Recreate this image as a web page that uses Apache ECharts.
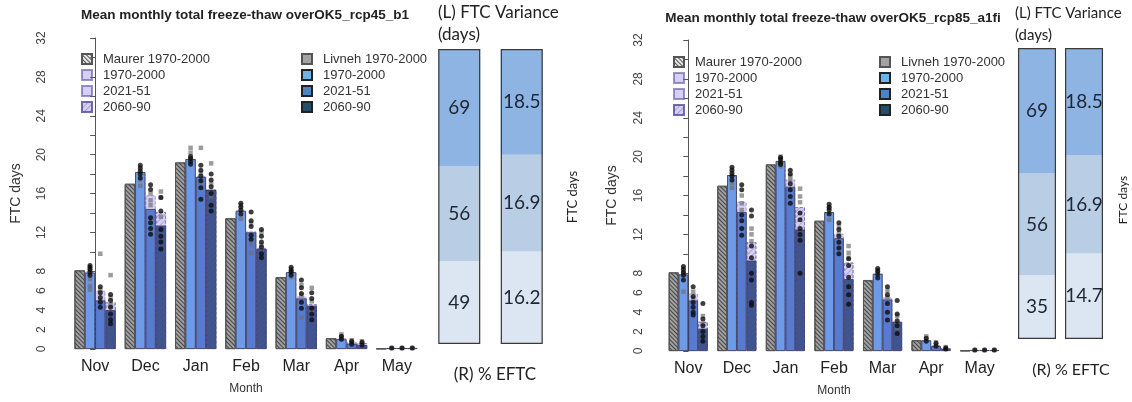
<!DOCTYPE html>
<html>
<head>
<meta charset="utf-8">
<script src="https://cdn.jsdelivr.net/npm/echarts@6/dist/echarts.min.js"></script>
<style>
  html, body { margin: 0; padding: 0; background: #fff; }
  #main { width: 1132px; height: 402px; }
</style>
</head>
<body>
<div id="main"></div>
<script>
const months = ['Nov', 'Dec', 'Jan', 'Feb', 'Mar', 'Apr', 'May'];
const yTicks = [0, 2, 4, 6, 8, 12, 16, 20, 24, 28, 32];

// left panel: rcp45_b1 (bar heights, FTC days)
const b1Maurer = [8.1, 17.0, 19.2, 13.45, 7.4, 1.1, 0.05];
const b1Livneh = [8.0, 16.9, 19.1, 13.4, 7.3, 1.1, 0.05];
const b1Blue1970 = [7.85, 18.2, 19.55, 14.2, 7.9, 1.0, 0.1];
const b1Blue2021 = [5.0, 14.4, 17.7, 12.0, 5.2, 0.55, 0.1];
const b1Blue2060 = [4.0, 12.7, 16.4, 10.3, 4.45, 0.4, 0.1];
const b1Lav1970 = [8.0, 18.0, 19.4, 14.3, 7.9, 1.1, 0.1];
const b1Lav2021 = [6.0, 15.8, 17.8, 12.1, 5.4, 0.7, 0.1];
const b1Lav2060 = [4.8, 14.1, 16.3, 10.4, 4.6, 0.6, 0.1];
// ensemble members (black dots / grey squares), per month
const b1Black1970 = [[8.6, 8.4, 8.2, 7.9, 7.6], [18.9, 18.6, 18.3, 18.0, 17.6], [19.8, 19.6, 19.3, 19.0], [15.0, 14.6, 14.3, 13.9], [8.4, 8.1, 7.9, 7.6], [1.3, 1.0], [0.1]];
const b1Grey1970 = [[8.0, 7.2, 6.5, 6.1], [17.4, 16.8], [20.7, 20.2], [14.8, 13.4], [8.2, 7.4], [1.5, 1.2], [0.1]];
const b1Black2021 = [[6.4, 5.8, 5.3, 4.8, 4.3], [16.9, 16.4, 13.5, 13.0, 12.4, 11.8], [18.9, 18.4, 17.8, 17.3, 16.6, 15.4], [14.1, 13.2, 12.6, 11.7, 11.3], [7.1, 6.3, 5.7, 4.8, 4.2], [0.8, 0.5], [0.1]];
const b1Grey2021 = [[9.8, 6.1, 5.0], [16.0, 15.3, 14.8], [20.7, 18.1, 17.0], [12.9, 10.8, 9.9], [6.6, 5.5, 3.2], [0.9, 0.6], [0.1]];
const b1Black2060 = [[5.6, 5.0, 4.3, 3.6, 3.0, 2.6], [15.6, 14.2, 12.3, 11.6, 11.0, 10.3], [18.0, 17.4, 16.7, 16.0, 14.8, 14.2], [12.3, 11.6, 11.0, 10.5, 9.8, 9.4], [5.8, 5.2, 4.2, 3.6, 3.0], [0.7, 0.4], [0.1]];
const b1Grey2060 = [[7.6, 5.3, 4.5], [16.2, 15.6, 13.6], [19.1, 17.0, 15.7], [12.0, 10.7], [6.3, 4.9, 3.9], [0.8], [0.1]];

// right panel: rcp85_a1fi
const a1Maurer = [8.1, 17.0, 19.2, 13.4, 7.3, 1.1, 0.05];
const a1Livneh = [8.0, 16.9, 19.1, 13.3, 7.2, 1.1, 0.05];
const a1Blue1970 = [7.87, 18.1, 19.55, 14.3, 7.95, 1.1, 0.1];
const a1Blue2021 = [5.2, 14.3, 16.9, 11.6, 5.3, 0.5, 0.1];
const a1Blue2060 = [2.3, 9.3, 12.5, 7.4, 3.0, 0.2, 0.1];
const a1Lav1970 = [7.9, 18.0, 19.4, 14.2, 7.9, 1.1, 0.1];
const a1Lav2021 = [5.9, 15.35, 17.65, 12.05, 5.5, 0.6, 0.1];
const a1Lav2060 = [3.0, 11.2, 14.8, 9.1, 3.0, 0.3, 0.1];
const a1Black1970 = [[8.7, 8.4, 8.1, 7.8, 7.3], [18.9, 18.6, 18.3, 18.0, 17.6], [19.9, 19.7, 19.4, 19.2], [15.1, 14.8, 14.5, 14.1], [8.5, 8.2, 7.9, 7.5], [1.3, 1.0], [0.1]];
const a1Grey1970 = [[8.0, 6.1], [17.3, 16.8], [20.0, 19.0], [14.7, 13.5], [8.3], [1.5], [0.1]];
const a1Black2021 = [[6.6, 5.6, 5.0, 4.5, 4.0, 3.7], [17.1, 16.6, 14.0, 13.4, 12.6, 11.9], [18.6, 18.2, 17.2, 16.6, 15.9, 15.2], [13.2, 12.5, 11.8, 11.2, 10.6, 10.0], [6.6, 5.8, 4.9, 4.0, 3.2], [0.8, 0.5], [0.1]];
const a1Grey2021 = [[6.1, 5.4], [16.0, 15.2, 14.5], [18.0, 17.6], [12.8, 12.1], [6.2, 5.5], [0.9], [0.1]];
const a1Black2060 = [[4.9, 3.3, 2.6, 2.0, 1.5, 1.0], [14.5, 13.9, 10.8, 9.6, 8.0, 7.3, 5.0, 4.7], [14.2, 13.5, 12.6, 12.0, 11.4, 8.0], [9.5, 8.8, 7.6, 6.6, 5.8, 4.8], [5.2, 3.8, 3.1, 2.6, 1.8], [0.3, 0.2], [0.1]];
const a1Grey2060 = [[3.6, 2.8], [12.6, 12.0, 11.3], [16.7, 15.9, 15.3], [10.8, 10.1, 9.6], [3.6, 2.4], [0.4], [0.1]];

// side boxes: (L) FTC variance and (R) % EFTC, bottom -> top
const b1Variance = [49, 56, 69];
const b1Eftc = [16.2, 16.9, 18.5];
const a1Variance = [35, 56, 69];
const a1Eftc = [14.7, 16.9, 18.5];

const lavender = 'rgba(120,100,230,0.3)';
const blueCols = ['#6bb4ea', '#4a86c7', '#244f6b'];
const boxCols = ['#dce6f2', '#b9cde5', '#8eb4e3'];

const hatch = {
  symbol: 'rect', symbolSize: 1, rotation: Math.PI / 4,
  dashArrayX: [1, 0], dashArrayY: [1, 2], color: 'rgba(40,40,40,0.75)'
};
const lavHatch = {
  symbol: 'rect', symbolSize: 1, rotation: -Math.PI / 4,
  dashArrayX: [1, 0], dashArrayY: [1, 3], color: 'rgba(90,80,140,0.35)'
};

function bar(name, data, xi, yi, w, style) {
  return { type: 'bar', name: name, data: data, xAxisIndex: xi, yAxisIndex: yi,
    barWidth: w, barGap: '0%', itemStyle: style, silent: true };
}

function dots(vals, slot, w, band, xi, yi, black) {
  const off = (slot - 1.5) * w / band;
  const pts = [];
  vals.forEach((arr, i) => arr.forEach(v => pts.push([i + off, v])));
  return { type: 'scatter', data: pts, xAxisIndex: xi, yAxisIndex: yi, silent: true, z: 6,
    symbol: black ? 'circle' : 'rect', symbolSize: black ? 5 : 4.5,
    itemStyle: { color: black ? '#0d0d0d' : 'rgba(110,110,110,0.85)' } };
}

function panelSeries(x0, yi, w, band, d) {
  const edge = { borderColor: '#222', borderWidth: 0.8 };
  const lavEdge = { borderColor: 'rgba(90,80,150,0.6)', borderWidth: 0.8, borderType: 'dashed' };
  const s = [
    bar('Livneh 1970-2000', d.livneh, x0, yi, w, { color: '#a3a3a3', borderColor: '#555', borderWidth: 0.8 }),
    bar('b|1970-2000', d.blue[0], x0, yi, w, Object.assign({ color: blueCols[0] }, edge)),
    bar('b|2021-51', d.blue[1], x0, yi, w, Object.assign({ color: blueCols[1] }, edge)),
    bar('b|2060-90', d.blue[2], x0, yi, w, Object.assign({ color: blueCols[2] }, edge)),
    bar('Maurer 1970-2000', d.maurer, x0 + 1, yi, w, { color: 'rgba(150,150,150,0.25)', decal: hatch, borderColor: '#555', borderWidth: 0.8 }),
    bar('l|1970-2000', d.lav[0], x0 + 1, yi, w, Object.assign({ color: lavender }, lavEdge)),
    bar('l|2021-51', d.lav[1], x0 + 1, yi, w, Object.assign({ color: lavender }, lavEdge)),
    bar('l|2060-90', d.lav[2], x0 + 1, yi, w, Object.assign({ color: lavender, decal: lavHatch }, lavEdge))
  ];
  for (let k = 0; k < 3; k++) {
    s.push(dots(d.grey[k], k + 1, w, band, x0 + 2, yi, false));
    s.push(dots(d.black[k], k + 1, w, band, x0 + 2, yi, true));
  }
  return s;
}

function boxSeries(xi, yi, w, variance, eftc) {
  const sv = variance.reduce((a, b) => a + b, 0);
  const se = eftc.reduce((a, b) => a + b, 0);
  const s = boxCols.map((c, k) => ({
    type: 'bar', stack: 'box' + xi, xAxisIndex: xi, yAxisIndex: yi, barWidth: w, barGap: '-100%', silent: true,
    itemStyle: { color: c },
    label: { show: true, position: 'inside', fontFamily: 'Lato', fontSize: 19, color: '#1f2533',
      formatter: p => String(p.data.raw) },
    data: [{ value: variance[k] / sv * 100, raw: variance[k] }, { value: eftc[k] / se * 100, raw: eftc[k] }]
  }));
  s.push({ type: 'bar', xAxisIndex: xi, yAxisIndex: yi, barWidth: w, barGap: '-100%', silent: true, z: 4,
    itemStyle: { color: 'rgba(0,0,0,0)', borderColor: '#3a3a3a', borderWidth: 1.2 }, data: [100, 100] });
  return s;
}

function catAxes(grid, nameGap) {
  return [
    { type: 'category', gridIndex: grid, data: months, axisLine: { show: false }, axisTick: { show: false },
      axisLabel: { fontFamily: 'Liberation Sans', fontSize: 16, color: '#222', margin: 10 },
      name: 'Month', nameLocation: 'middle', nameGap: nameGap,
      nameTextStyle: { fontFamily: 'Liberation Sans', fontSize: 12, color: '#333' } },
    { type: 'category', gridIndex: grid, data: months, show: false },
    { type: 'value', gridIndex: grid, min: -0.5, max: 6.5, show: false }
  ];
}

function valAxis(grid, offset, nameGap, labelMargin) {
  return { type: 'value', gridIndex: grid, min: 0, max: 32, interval: 2, offset: offset,
    axisLine: { show: true, lineStyle: { color: '#555' } },
    axisTick: { show: true, length: 5, lineStyle: { color: '#555' } },
    splitLine: { show: false },
    axisLabel: { rotate: 90, fontFamily: 'Liberation Sans', fontSize: 12, color: '#444', margin: labelMargin,
      formatter: v => yTicks.includes(v) ? String(v) : '' },
    name: 'FTC days', nameLocation: 'middle', nameGap: nameGap,
    nameTextStyle: { fontFamily: 'Liberation Sans', fontSize: 14, color: '#333' } };
}

const leftW = 10.3, leftBand = 352 / 7;
const rightW = 9.75, rightBand = 340 / 7;

const b1 = { maurer: b1Maurer, livneh: b1Livneh,
  blue: [b1Blue1970, b1Blue2021, b1Blue2060], lav: [b1Lav1970, b1Lav2021, b1Lav2060],
  black: [b1Black1970, b1Black2021, b1Black2060], grey: [b1Grey1970, b1Grey2021, b1Grey2060] };
const a1 = { maurer: a1Maurer, livneh: a1Livneh,
  blue: [a1Blue1970, a1Blue2021, a1Blue2060], lav: [a1Lav1970, a1Lav2021, a1Lav2060],
  black: [a1Black1970, a1Black2021, a1Black2060], grey: [a1Grey1970, a1Grey2021, a1Grey2060] };

const legendText = { fontFamily: 'Liberation Sans', fontSize: 13, color: '#333', lineHeight: 16, padding: [0, 0, 0, 6] };
function legend(left, top, names) {
  return { left: left, top: top, orient: 'vertical', itemWidth: 10, itemHeight: 10, itemGap: 0,
    icon: 'rect', selectedMode: false, data: names, textStyle: legendText,
    formatter: n => n.replace(/^[bl]\|/, '') };
}
const legCol1 = ['Maurer 1970-2000', 'l|1970-2000', 'l|2021-51', 'l|2060-90'];
const legCol2 = ['Livneh 1970-2000', 'b|1970-2000', 'b|2021-51', 'b|2060-90'];

function txt(x, y, text, font, align, rot) {
  return { type: 'text', x: x, y: y, rotation: rot || 0, silent: true,
    style: { text: text, font: font, fill: '#222', textAlign: align || 'left', textVerticalAlign: 'middle' } };
}

const chart = echarts.init(document.getElementById('main'));
chart.setOption({
  animation: false,
  backgroundColor: '#fff',
  grid: [
    { left: 70, top: 38, width: 352, height: 311 },
    { left: 428, top: 49, width: 125, height: 295 },
    { left: 664, top: 40, width: 340, height: 311 },
    { left: 1013.5, top: 48, width: 94, height: 291 }
  ],
  xAxis: [].concat(
    catAxes(0, 34),
    [{ type: 'category', gridIndex: 1, data: ['var', 'eftc'], show: false }],
    catAxes(2, 34),
    [{ type: 'category', gridIndex: 3, data: ['var', 'eftc'], show: false }]
  ),
  yAxis: [
    valAxis(0, 8, 39, 14),
    { type: 'value', gridIndex: 1, min: 0, max: 100, show: false },
    valAxis(2, 9, 36, 10),
    { type: 'value', gridIndex: 3, min: 0, max: 100, show: false }
  ],
  legend: [
    legend(76, 46, legCol1), legend(296, 46, legCol2),
    legend(668, 49, legCol1), legend(874, 49, legCol2)
  ],
  series: [].concat(
    panelSeries(0, 0, leftW, leftBand, b1),
    boxSeries(3, 1, 42, b1Variance, b1Eftc),
    panelSeries(4, 2, rightW, rightBand, a1),
    boxSeries(7, 3, 38, a1Variance, a1Eftc)
  ),
  graphic: [
    txt(245, 15, 'Mean monthly total freeze-thaw overOK5_rcp45_b1', 'bold 13.5px "Liberation Sans"', 'center'),
    txt(833, 18, 'Mean monthly total freeze-thaw overOK5_rcp85_a1fi', 'bold 13.5px "Liberation Sans"', 'center'),
    txt(438, 13, '(L) FTC Variance', '17px Lato'),
    txt(438, 35, '(days)', '17px Lato'),
    txt(495, 375, '(R) % EFTC', '17px Lato', 'center'),
    txt(573, 197, 'FTC days', '13px Lato', 'center', Math.PI / 2),
    txt(1015, 13, '(L) FTC Variance', '15px Lato'),
    txt(1015, 35, '(days)', '15px Lato'),
    txt(1071, 370, '(R) % EFTC', '16px Lato', 'center'),
    txt(1123, 200, 'FTC days', '12px Lato', 'center', Math.PI / 2)
  ]
});
</script>
</body>
</html>
